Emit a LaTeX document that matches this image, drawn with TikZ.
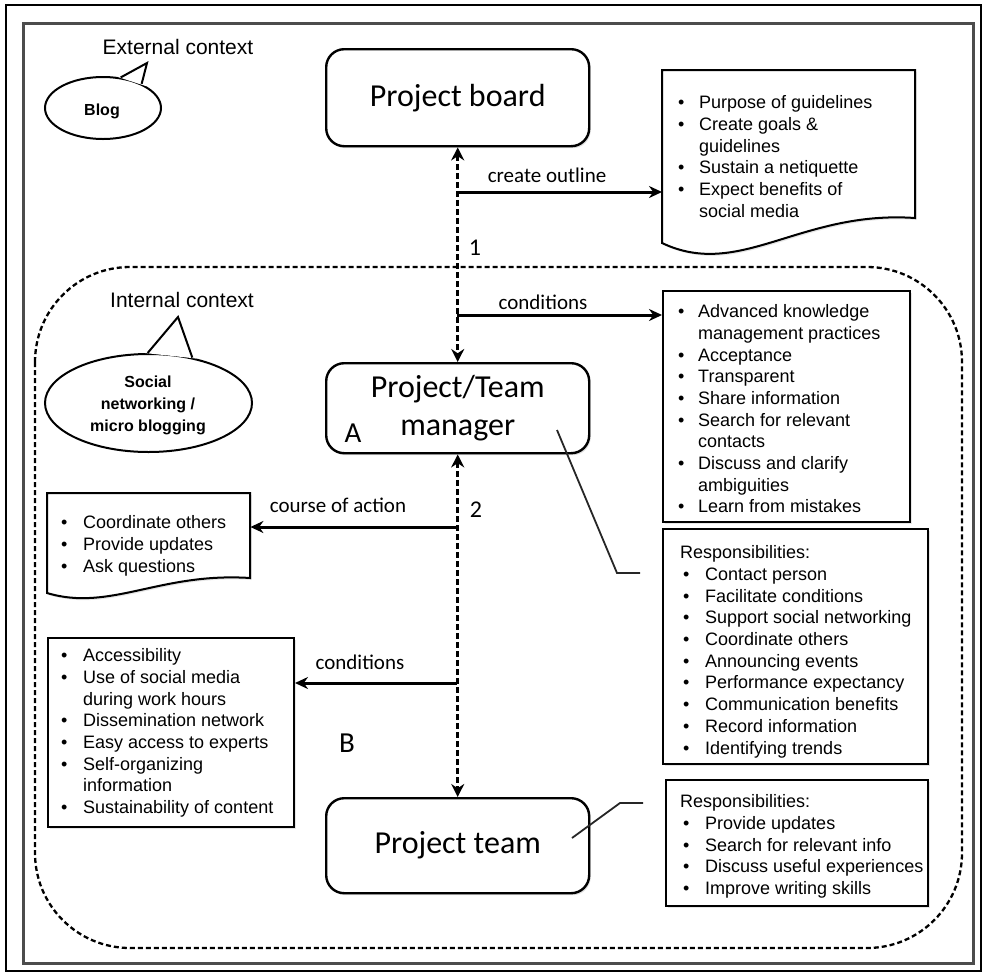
\documentclass[tikz,border=0pt]{standalone}
\usepackage{fontspec}
\setmainfont{Liberation Sans}
\newfontfamily\calib{Carlito}
\usetikzlibrary{arrows.meta,shapes.geometric,shadows}
\newcommand{\bi}[1][21pt]{\makebox[#1][l]{•}}
\newcommand{\nb}[1][21pt]{\hspace*{#1}}
\begin{document}
\begin{tikzpicture}[x=1pt,y=-1pt,
  outerframe/.style={draw=black, line width=1.8pt},
  grayframe/.style={draw=black!70, line width=3pt},
  rbox/.style={draw, line width=2.4pt, rounded corners=18pt, fill=white, inner sep=0pt, anchor=north west,
    font=\calib\fontsize{32}{38}\selectfont, align=center,
    drop shadow={opacity=0.25, shadow xshift=1.5pt, shadow yshift=-2pt}},
  lbox/.style={draw, line width=2pt, fill=white, inner sep=0pt, anchor=north west,
    drop shadow={opacity=0.2, shadow xshift=1.5pt, shadow yshift=-2pt}},
  area/.style={inner sep=0pt, anchor=north west},
  doc/.style={draw, line width=2pt, fill=white, line join=miter,
    drop shadow={opacity=0.2, shadow xshift=1.5pt, shadow yshift=-2pt}},
  lbl/.style={font=\calib\fontsize{21}{25}\selectfont, inner sep=0pt},
  num/.style={font=\calib\fontsize{24}{28}\selectfont, inner sep=0pt},
  letter/.style={font=\calib\fontsize{29}{34}\selectfont, inner sep=0pt},
  ltxt/.style={font=\fontsize{18}{21.7}\selectfont, inner sep=0pt, anchor=north west},
  ctx/.style={font=\fontsize{21}{25}\selectfont, inner sep=0pt},
  btxt/.style={font=\bfseries\fontsize{16}{22}\selectfont, align=center, inner sep=0pt},
  dasharrow/.style={line width=3.5pt, dash pattern=on 6pt off 3pt,
    {Stealth[length=13pt,width=13pt]}-{Stealth[length=13pt,width=13pt]}},
  sarrow/.style={line width=3pt, -{Stealth[length=13pt,width=12pt]}},
  callout/.style={draw=black!85, line width=1.8pt},
  ctxline/.style={draw, line width=2.3pt, dash pattern=on 5pt off 3pt, rounded corners=95pt},
  bubble/.style={ellipse, draw, line width=2pt, fill=white, inner sep=0pt},
  tail/.style={draw, line width=2pt, line join=miter},
]
\useasboundingbox (0,0) rectangle (985,975);

% frames
\draw[outerframe] (6,5) rectangle (981,971);
\draw[grayframe] (23,23) rectangle (973,963);

% internal context area
\draw[ctxline] (35,267) rectangle (962,948);

% context labels and bubbles
\node[ctx] (ext) at (178,47) {External context};
\node[ctx] (int) at (182,300) {Internal context};

\node[bubble, minimum width=116pt, minimum height=62pt] (blog) at (103,108) {};
\fill[white] (blog.64) -- (147,63) -- (blog.27) -- cycle;
\draw[tail] (blog.60) -- (147,63) -- (blog.32);
\node[btxt] (blogt) at (102,111) {Blog};

\node[bubble, minimum width=207pt, minimum height=98pt] (social) at (148.5,403) {};
\fill[white] (social.94) -- (178,317) -- (social.43) -- cycle;
\draw[tail] (social.91) -- (178,317) -- (social.46);
\node[btxt] (socialt) at (148,405) {Social\\networking /\\micro blogging};

% main boxes
\node[rbox, minimum width=263pt, minimum height=97pt] (board) at (325,48) {Project board};
\node[rbox, minimum width=263pt, minimum height=90pt] (mgr) at (325,362) {Project/Team\\manager};
\node[rbox, minimum width=263pt, minimum height=95pt] (team) at (325,797) {Project team};

\node[letter] (la) at (353,433) {A};
\node[letter] (lb) at (347,743) {B};

% document shapes
\node[area, minimum width=253pt, minimum height=148pt] (doc1) at (662,70) {};
\draw[doc] (915,218) -- (915,70) -- (662,70) -- (662,243)
  .. controls (740,280) and (800,210) .. (915,218) -- cycle;
\node[ltxt] (doc1t) at (678,93.3) {\begin{tabular}{@{}l@{}}
\bi Purpose of guidelines\\
\bi Create goals \&\\
\nb guidelines\\
\bi Sustain a netiquette\\
\bi Expect benefits of\\
\nb social media
\end{tabular}};

\node[area, minimum width=203pt, minimum height=85pt] (doc2) at (47,493) {};
\draw[doc] (250,578) -- (250,493) -- (47,493) -- (47,593)
  .. controls (110,612) and (160,572) .. (250,578) -- cycle;
\node[ltxt] (doc2t) at (61,513.3) {\begin{tabular}{@{}l@{}}
\bi[22pt]Coordinate others\\
\bi[22pt]Provide updates\\
\bi[22pt]Ask questions
\end{tabular}};

% rectangular lists
\node[lbox, minimum width=247pt, minimum height=231pt] (cond) at (662,290) {};
\node[ltxt] (condt) at (678,302.3) {\begin{tabular}{@{}l@{}}
\bi[20pt]Advanced knowledge\\
\nb[20pt]management practices\\
\bi[20pt]Acceptance\\
\bi[20pt]Transparent\\
\bi[20pt]Share information\\
\bi[20pt]Search for relevant\\
\nb[20pt]contacts\\
\bi[20pt]Discuss and clarify\\
\nb[20pt]ambiguities\\
\bi[20pt]Learn from mistakes
\end{tabular}};

\node[lbox, minimum width=265pt, minimum height=235pt] (resp1) at (662,528) {};
\node[ltxt] (resp1t) at (680,543.3) {\begin{tabular}{@{}l@{}}
Responsibilities:\\
\nb[3pt]\bi[22pt]Contact person\\
\nb[3pt]\bi[22pt]Facilitate conditions\\
\nb[3pt]\bi[22pt]Support social networking\\
\nb[3pt]\bi[22pt]Coordinate others\\
\nb[3pt]\bi[22pt]Announcing events\\
\nb[3pt]\bi[22pt]Performance expectancy\\
\nb[3pt]\bi[22pt]Communication benefits\\
\nb[3pt]\bi[22pt]Record information\\
\nb[3pt]\bi[22pt]Identifying trends
\end{tabular}};

\node[lbox, minimum width=262pt, minimum height=126pt] (resp2) at (665,779) {};
\node[ltxt] (resp2t) at (680,792.3) {\begin{tabular}{@{}l@{}}
Responsibilities:\\
\nb[3pt]\bi[22pt]Provide updates\\
\nb[3pt]\bi[22pt]Search for relevant info\\
\nb[3pt]\bi[22pt]Discuss useful experiences\\
\nb[3pt]\bi[22pt]Improve writing skills
\end{tabular}};

\node[lbox, minimum width=246pt, minimum height=189pt] (left) at (47,637) {};
\node[ltxt] (leftt) at (61,646.3) {\begin{tabular}{@{}l@{}}
\bi[22pt]Accessibility\\
\bi[22pt]Use of social media\\
\nb[22pt]during work hours\\
\bi[22pt]Dissemination network\\
\bi[22pt]Easy access to experts\\
\bi[22pt]Self-organizing\\
\nb[22pt]information\\
\bi[22pt]Sustainability of content
\end{tabular}};

% connectors
\draw[dasharrow] (board.south) -- (mgr.north);
\draw[dasharrow] (mgr.south) -- (team.north);

\coordinate (j1) at (456.5,192);
\coordinate (j2) at (456.5,315);
\coordinate (j3) at (456.5,527);
\coordinate (j4) at (456.5,683);
\draw[sarrow] (j1) -- (doc1.west |- j1);
\draw[sarrow] (j2) -- (cond.west |- j2);
\draw[sarrow] (j3) -- (doc2.east |- j3);
\draw[sarrow] (j4) -- (left.east |- j4);

\node[lbl] (l1) at (547,175) {create outline};
\node[lbl] (l2) at (543,302) {conditions};
\node[lbl] (l3) at (338,505) {course of action};
\node[lbl] (l4) at (360,662) {conditions};
\node[num] (n1) at (475,248) {1};
\node[num] (n2) at (476,510) {2};

% callouts
\coordinate (c1a) at (557,430);
\coordinate (c1b) at (617,573);
\coordinate (c1c) at (640,573);
\draw[callout] (c1a) -- (c1b) -- (c1c);
\coordinate (c2a) at (572,838);
\coordinate (c2b) at (620,803);
\coordinate (c2c) at (643,803);
\draw[callout] (c2a) -- (c2b) -- (c2c);
\end{tikzpicture}
\end{document}
